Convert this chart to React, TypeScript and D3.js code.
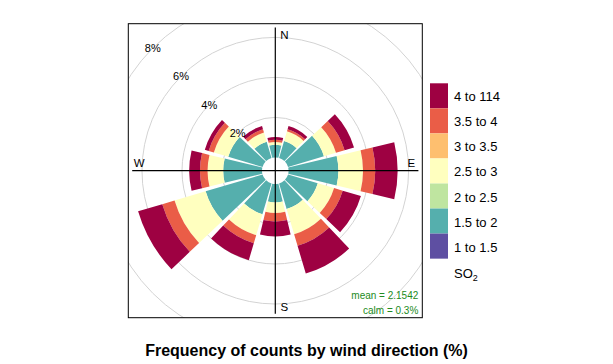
import React from 'react';
import * as d3 from 'd3';

// wind sectors (degrees) and SO2 bands
const directions = [0, 30, 60, 90, 120, 150, 180, 210, 240, 270, 300, 330];
const bandLabels = ['1 to 1.5', '1.5 to 2', '2 to 2.5', '2.5 to 3', '3 to 3.5', '3.5 to 4', '4 to 114'];
const bandColors = ['#5E4FA2', '#55AFAD', '#BFE5A0', '#FFFFBF', '#FEBF6F', '#EA5D47', '#9E0142'];

// frequency (%) per band for each direction, same order as directions
const band1 = [0, 0, 0, 0, 0, 0, 0, 0, 0, 0, 0, 0];
const band2 = [0.63, 0.88, 1.87, 2.49, 1.55, 1.33, 0.92, 1.6, 2.97, 1.94, 1.79, 0.85];
const band3 = [0, 0, 0, 0, 0, 0, 0, 0, 0, 0, 0, 0];
const band4 = [0.14, 0.51, 0.63, 1.23, 0.85, 1.32, 0.53, 1.1, 1.62, 0.78, 0.75, 0.48];
const band5 = [0, 0, 0, 0, 0, 0, 0, 0, 0, 0, 0, 0];
const band6 = [0.11, 0.11, 0.45, 0.61, 0.45, 0.6, 0.42, 0.42, 0.64, 0.38, 0.27, 0.17];
const band7 = [0.14, 0.16, 0.49, 1.12, 0.95, 1.45, 0.75, 0.88, 1.26, 0.54, 0.2, 0.17];
const bands = [band1, band2, band3, band4, band5, band6, band7];

const gridTicks = [2, 4, 6, 8];
const compass = [
  { label: 'N', deg: 0, dx: 9, dy: 0 },
  { label: 'E', deg: 90, dx: 0, dy: -8 },
  { label: 'S', deg: 180, dx: 9, dy: 0 },
  { label: 'W', deg: 270, dx: 0, dy: -8 },
];
const meanText = 'mean = 2.1542';
const calmText = 'calm = 0.3%';
const title = 'Frequency of counts by wind direction (%)';

export default function App() {
  const width = 613;
  const height = 364;
  const cx = 275.3;
  const cy = 170.7;
  const half = 147;
  const font = 'Liberation Sans, Arial, sans-serif';

  const r = d3.scaleLinear().domain([0, 8]).range([13.3, 173.3]);
  const halfAngle = 13.5;

  const totals = directions.map((_, i) => d3.sum(bands, b => b[i]));
  const rMax = r(d3.max(totals) as number);

  const arc = d3.arc<any>();
  const wedges: { d: string; color: string }[] = [];
  directions.forEach((wd, i) => {
    let cum = 0;
    bands.forEach((b, j) => {
      const v = b[i];
      if (v > 0) {
        const d = arc({
          innerRadius: r(cum),
          outerRadius: r(cum + v),
          startAngle: ((wd - halfAngle) * Math.PI) / 180,
          endAngle: ((wd + halfAngle) * Math.PI) / 180,
        }) as string;
        wedges.push({ d, color: bandColors[j] });
      }
      cum += v;
    });
  });

  const lx = 430;
  const ly = 83.3;
  const boxH = 25.05;
  const legendRows = bandLabels.map((l, i) => ({ label: l, color: bandColors[i] })).reverse();

  return (
    <svg width={width} height={height} style={{ position: 'absolute', left: 0, top: 0 }}>
      <defs>
        <clipPath id="panel">
          <rect x={cx - half} y={cy - half} width={half * 2} height={half * 2} />
        </clipPath>
      </defs>
      <rect width={width} height={height} fill="#fff" />
      <g clipPath="url(#panel)">
        {gridTicks.map(t => (
          <circle key={t} cx={cx} cy={cy} r={r(t)} fill="none" stroke="#D3D3D3" strokeWidth={1} />
        ))}
        <circle cx={cx} cy={cy} r={r(10)} fill="none" stroke="#D3D3D3" strokeWidth={1} />
      </g>
      <g transform={`translate(${cx},${cy})`}>
        {wedges.map((w, i) => (
          <path key={i} d={w.d} fill={w.color} />
        ))}
      </g>
      <line x1={cx} x2={cx} y1={cy - rMax} y2={cy + rMax} stroke="#000" strokeWidth={1.2} />
      <line x1={cx - rMax} x2={cx + rMax} y1={cy} y2={cy} stroke="#000" strokeWidth={1.2} />
      {gridTicks.map(t => {
        const a = (-45 * Math.PI) / 180;
        return (
          <text key={t} x={cx + r(t) * Math.sin(a)} y={cy - r(t) * Math.cos(a)} fontSize={11} fontFamily={font}
            textAnchor="middle" dominantBaseline="central">{t}%</text>
        );
      })}
      {compass.map(c => {
        const a = (c.deg * Math.PI) / 180;
        const rr = 136;
        return (
          <text key={c.label} x={cx + rr * Math.sin(a) + c.dx} y={cy - rr * Math.cos(a) + c.dy} fontSize={11.5}
            fontFamily={font} textAnchor="middle" dominantBaseline="central">{c.label}</text>
        );
      })}
      <text x={cx + half - 4} y={cy + half - 19} fontSize={10} fontFamily={font} fill="#228B22" textAnchor="end">{meanText}</text>
      <text x={cx + half - 4} y={cy + half - 3.5} fontSize={10} fontFamily={font} fill="#228B22" textAnchor="end">{calmText}</text>
      <rect x={cx - half} y={cy - half} width={half * 2} height={half * 2} fill="none" stroke="#000" strokeWidth={1} />

      {legendRows.map((row, i) => (
        <g key={row.label}>
          <rect x={lx} y={ly + i * boxH} width={18} height={boxH} fill={row.color} />
          <text x={454} y={ly + i * boxH + boxH / 2 + 1} fontSize={13} fontFamily={font} dominantBaseline="central">{row.label}</text>
        </g>
      ))}
      <text x={454} y={ly + 7 * boxH + 19} fontSize={13} fontFamily={font}>
        SO<tspan fontSize={9} dy={3}>2</tspan>
      </text>

      <text x={width / 2} y={356} fontSize={16} fontWeight="bold" fontFamily={font} textAnchor="middle">{title}</text>
    </svg>
  );
}
